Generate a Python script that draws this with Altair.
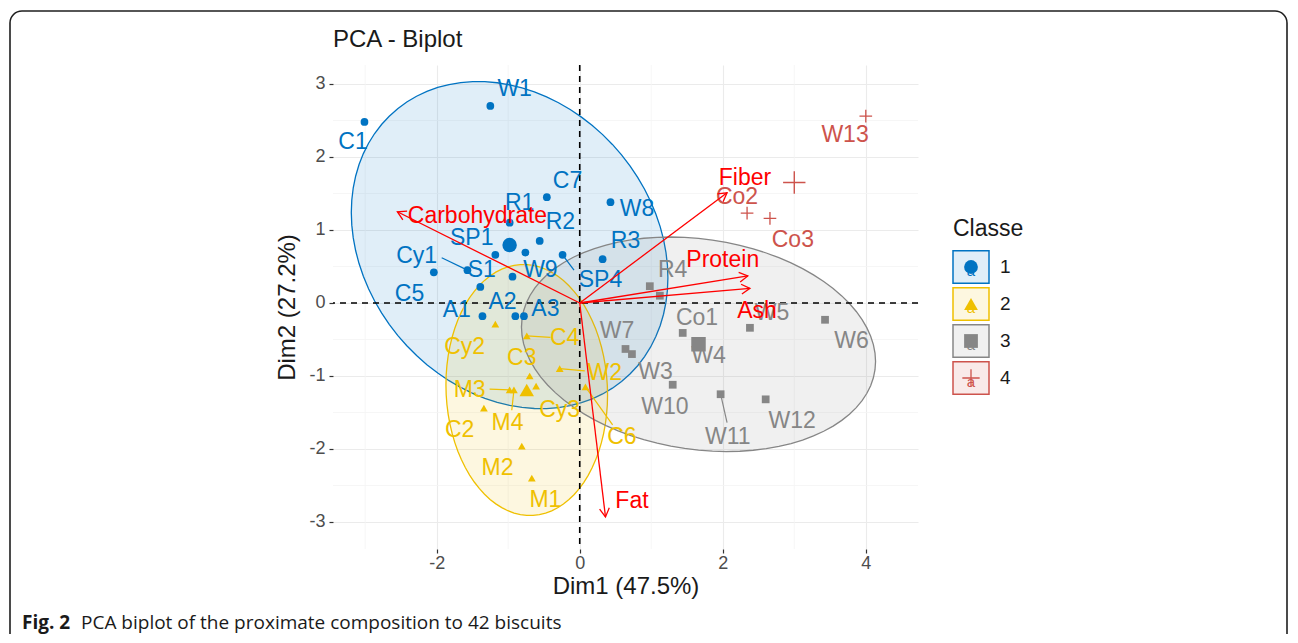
import altair as alt
import numpy as np
import pandas as pd

# ---------------- data ----------------
palette = ["#0073C2", "#EFC000", "#868686", "#CD534C"]
class_ids = [1, 2, 3, 4]

cls1_names = ["C1", "W1", "C7", "W8", "R1", "R2", "SP1", "SP2", "Cy1", "C5", "S1", "W9", "SP4", "R3", "A1", "A2", "A3"]
cls1_x = [-3.01, -1.25, -0.46, 0.43, -0.98, -0.56, -1.18, -0.76, -1.57, -2.04, -1.39, -0.94, -0.24, 0.32, -1.36, -0.90, -0.78]
cls1_y = [2.48, 2.70, 1.45, 1.38, 1.10, 0.85, 0.66, 0.69, 0.45, 0.42, 0.22, 0.36, 0.66, 0.60, -0.18, -0.18, -0.18]
cls1_lx = [-3.17, -0.91, -0.17, 0.80, -0.84, -0.27, -1.51, None, -2.28, -2.38, -1.37, -0.55, 0.29, 0.64, -1.72, -1.08, -0.48]
cls1_ly = [2.21, 2.93, 1.67, 1.29, 1.37, 1.11, 0.89, None, 0.64, 0.12, 0.45, 0.45, 0.32, 0.85, -0.10, 0.01, -0.08]

cls2_names = ["Cy2", "C4", "W2", "C3", "M3", "M4", "Cy3", "C6", "C2", "M2", "M1"]
cls2_x = [-1.18, -0.74, -0.28, -0.70, -0.98, -0.92, -0.61, 0.08, -1.34, -0.81, -0.67]
cls2_y = [-0.29, -0.45, -0.90, -1.00, -1.19, -1.19, -1.14, -1.15, -1.44, -1.96, -2.40]
cls2_lx = [-1.61, -0.21, 0.35, -0.81, -1.54, -1.01, -0.28, 0.59, -1.68, -1.15, -0.48]
cls2_ly = [-0.60, -0.48, -0.96, -0.75, -1.19, -1.64, -1.47, -1.84, -1.74, -2.26, -2.70]

cls3_names = ["R4", "R5", "Co1", "W7", "W3", "W10", "W11", "W12", "W5", "W6", "W4"]
cls3_x = [0.98, 1.12, 1.44, 0.64, 0.73, 1.30, 1.97, 2.60, 2.38, 3.43, 1.68]
cls3_y = [0.23, 0.10, -0.41, -0.63, -0.70, -1.12, -1.25, -1.32, -0.34, -0.23, -0.55]
cls3_lx = [1.30, None, 1.64, 0.52, 1.06, 1.19, 2.07, 2.97, 2.69, 3.80, 1.80]
cls3_ly = [0.45, None, -0.21, -0.38, -0.95, -1.42, -1.84, -1.62, -0.14, -0.52, -0.73]

cls4_names = ["W13", "Co2", "Co3"]
cls4_x = [4.00, 2.34, 2.66]
cls4_y = [2.56, 1.23, 1.16]
cls4_lx = [3.71, 2.20, 2.98]
cls4_ly = [2.30, 1.45, 0.86]

# repel segments: individual -> end near its label
seg_names = ["Cy1", "SP4", "C4", "W2", "M3", "M4", "C6", "W11"]
seg_end_x = [-1.93, -0.08, -0.41, 0.07, -1.26, -0.95, 0.46, 2.06]
seg_end_y = [0.62, 0.45, -0.47, -0.93, -1.18, -1.47, -1.67, -1.64]

# variables
var_names = ["Carbohydrate", "Fiber", "Protein", "Ash", "Fat"]
var_x = [-2.55, 2.06, 2.35, 2.38, 0.36]
var_y = [1.25, 1.51, 0.37, 0.20, -2.93]
var_lx = [-1.43, 2.31, 2.00, 2.48, 0.73]
var_ly = [1.19, 1.71, 0.59, -0.11, -2.71]

x_ticks = [-2, 0, 2, 4]
y_ticks = [-3, -2, -1, 0, 1, 2, 3]
x_minor = [-3, -1, 1, 3]
y_minor = [-2.5, -1.5, -0.5, 0.5, 1.5, 2.5]

# ---------------- tables ----------------
shapes = {1: "circle", 2: "triangle-up", 3: "square", 4: "M-1,0L1,0M0,-1L0,1"}
groups = [
    (1, cls1_names, cls1_x, cls1_y, cls1_lx, cls1_ly),
    (2, cls2_names, cls2_x, cls2_y, cls2_lx, cls2_ly),
    (3, cls3_names, cls3_x, cls3_y, cls3_lx, cls3_ly),
    (4, cls4_names, cls4_x, cls4_y, cls4_lx, cls4_ly),
]
rows = []
for c, nm, xs, ys, lxs, lys in groups:
    for i in range(len(nm)):
        rows.append(dict(name=nm[i], cls=c, x=xs[i], y=ys[i],
                         lx=lxs[i], ly=lys[i], col=palette[c - 1], shape=shapes[c]))
ind = pd.DataFrame(rows)

pos = {r["name"]: (r["x"], r["y"], r["col"]) for r in rows}
seg = pd.DataFrame(dict(x=[pos[n][0] for n in seg_names], y=[pos[n][1] for n in seg_names],
                        x2=seg_end_x, y2=seg_end_y, col=[pos[n][2] for n in seg_names]))

var = pd.DataFrame(dict(name=var_names, vx=var_x, vy=var_y, lx=var_lx, ly=var_ly))


def norm_ellipse(px, py, level=0.95, segments=80):
    pts = np.column_stack([px, py])
    n = len(pts)
    center = pts.mean(axis=0)
    cov = np.cov(pts.T)
    d2 = n - 1
    qf = (d2 / 2.0) * ((1 - level) ** (-2.0 / d2) - 1)   # F(2, d2) quantile
    radius = np.sqrt(2 * qf)
    t = np.linspace(0, 2 * np.pi, segments + 1)
    circle = np.column_stack([np.cos(t), np.sin(t)])
    chol = np.linalg.cholesky(cov).T
    return center + radius * circle @ chol


XS = alt.Scale(domain=[-3.45, 4.73], nice=False, zero=False)
YS = alt.Scale(domain=[-3.37, 3.26], nice=False, zero=False)
LAB = "Liberation Sans"
LABSIZE = 23

base_x = alt.X("x:Q", scale=XS, axis=alt.Axis(values=x_ticks, title="Dim1 (47.5%)", grid=True,
                                                labelExpr="datum.value + ''"))
base_y = alt.Y("y:Q", scale=YS, axis=alt.Axis(values=y_ticks, title="Dim2 (27.2%)", grid=True,
                                                labelExpr="datum.value + ''"))

minor_v = alt.Chart(pd.DataFrame({"x": x_minor})).mark_rule(color="#F4F4F4", strokeWidth=0.8).encode(x=alt.X("x:Q", scale=XS))
minor_h = alt.Chart(pd.DataFrame({"y": y_minor})).mark_rule(color="#F4F4F4", strokeWidth=0.8).encode(y=alt.Y("y:Q", scale=YS))

axes = alt.Chart(ind).mark_point(opacity=0).encode(x=base_x, y=base_y)

ell_layers = []
for c, nm, xs, ys, lxs, lys in groups:
    if len(xs) - 1 < 3:
        continue
    e = norm_ellipse(np.array(xs), np.array(ys))
    edf = pd.DataFrame(dict(x=e[:, 0], y=e[:, 1], i=np.arange(len(e))))
    ell_layers.append(
        alt.Chart(edf).mark_line(fill=palette[c - 1], fillOpacity=0.12, stroke=palette[c - 1],
                                 strokeWidth=1.3)
        .encode(x=alt.X("x:Q", scale=XS), y=alt.Y("y:Q", scale=YS), order="i:Q")
    )

zero_v = alt.Chart(pd.DataFrame({"x": [0]})).mark_rule(color="black", strokeDash=[6, 5], strokeWidth=1.6).encode(x=alt.X("x:Q", scale=XS))
zero_h = alt.Chart(pd.DataFrame({"y": [0]})).mark_rule(color="black", strokeDash=[6, 5], strokeWidth=1.6).encode(y=alt.Y("y:Q", scale=YS))

pts_filled = alt.Chart(ind).transform_filter("datum.cls < 4").mark_point(filled=True, opacity=1, size=60).encode(
    x=alt.X("x:Q", scale=XS), y=alt.Y("y:Q", scale=YS),
    fill=alt.Fill("col:N", scale=None), shape=alt.Shape("shape:N", scale=None))
pts_cross = alt.Chart(ind).transform_filter("datum.cls == 4").mark_point(filled=False, opacity=1, size=160,
                                                                         strokeWidth=1.3).encode(
    x=alt.X("x:Q", scale=XS), y=alt.Y("y:Q", scale=YS),
    stroke=alt.Stroke("col:N", scale=None), shape=alt.Shape("shape:N", scale=None))

cent = alt.Chart(ind).transform_aggregate(x="mean(x)", y="mean(y)", groupby=["cls", "col", "shape"])
cent_filled = cent.transform_filter("datum.cls < 4").mark_point(filled=True, opacity=1, size=210).encode(
    x=alt.X("x:Q", scale=XS), y=alt.Y("y:Q", scale=YS),
    fill=alt.Fill("col:N", scale=None), shape=alt.Shape("shape:N", scale=None))
cent_cross = cent.transform_filter("datum.cls == 4").mark_point(filled=False, opacity=1, size=500,
                                                                strokeWidth=1.4).encode(
    x=alt.X("x:Q", scale=XS), y=alt.Y("y:Q", scale=YS),
    stroke=alt.Stroke("col:N", scale=None), shape=alt.Shape("shape:N", scale=None))

segs = alt.Chart(seg).mark_rule(strokeWidth=1.2).encode(
    x=alt.X("x:Q", scale=XS), y=alt.Y("y:Q", scale=YS), x2="x2:Q", y2="y2:Q",
    color=alt.Color("col:N", scale=None))

labels = alt.Chart(ind).transform_filter("isValid(datum.lx)").mark_text(font=LAB, fontSize=LABSIZE).encode(
    x=alt.X("lx:Q", scale=XS), y=alt.Y("ly:Q", scale=YS), text="name:N",
    color=alt.Color("col:N", scale=None))

arrows = alt.Chart(var).mark_rule(color="red", strokeWidth=1.3).encode(
    x=alt.X("vx:Q", scale=XS), y=alt.Y("vy:Q", scale=YS), x2=alt.datum(0), y2=alt.datum(0))
heads = alt.Chart(var).transform_calculate(ang="(atan2(datum.vx, datum.vy) * 180 / PI + 360) % 360").mark_point(
    shape="M-0.5,0.87L0,0L0.5,0.87", filled=False, size=380, color="red", strokeWidth=1.3, opacity=1).encode(
    x=alt.X("vx:Q", scale=XS), y=alt.Y("vy:Q", scale=YS), angle=alt.Angle("ang:Q", scale=None))
var_labels = alt.Chart(var).mark_text(font=LAB, fontSize=LABSIZE, color="red").encode(
    x=alt.X("lx:Q", scale=XS), y=alt.Y("ly:Q", scale=YS), text="name:N")

main = alt.layer(minor_v, minor_h, axes, *ell_layers, zero_v, zero_h, pts_filled, pts_cross,
                 segs, cent_filled, cent_cross, labels, arrows, heads, var_labels)

# ---------------- legend, title, frame and caption ----------------
leg = pd.DataFrame(dict(cls=class_ids, col=palette, lab=[str(c) for c in class_ids],
                        shape=[shapes[c] for c in class_ids]))
LY = alt.Y("cls:Q", scale=alt.Scale(domain=[1, 4], range=[202, 313]), axis=None)
LX = alt.value(638)
leg_box = alt.Chart(leg).mark_point(shape="M-1,-0.9L1,-0.9L1,0.9L-1,0.9Z", size=1296, filled=True,
                                    fillOpacity=0.12, strokeWidth=1.5, opacity=1).encode(
    x=LX, y=LY, fill=alt.Fill("col:N", scale=None), stroke=alt.Stroke("col:N", scale=None))
leg_a = alt.Chart(leg).mark_text(font=LAB, fontSize=15, dy=4).encode(
    x=LX, y=LY, text=alt.value("a"), color=alt.Color("col:N", scale=None))
leg_sym = alt.Chart(leg).transform_filter("datum.cls < 4").mark_point(filled=True, size=190, opacity=1).encode(
    x=LX, y=LY, fill=alt.Fill("col:N", scale=None), shape=alt.Shape("shape:N", scale=None))
leg_cross = alt.Chart(leg).transform_filter("datum.cls == 4").mark_point(filled=False, size=300, opacity=1,
                                                                         strokeWidth=1.3).encode(
    x=LX, y=LY, stroke=alt.Stroke("col:N", scale=None), shape=alt.Shape("shape:N", scale=None))
leg_lab = alt.Chart(leg).mark_text(font=LAB, fontSize=19, align="left", color="#1a1a1a").encode(
    x=alt.value(667), y=LY, text="lab:N")

one = pd.DataFrame({"k": [0]})
leg_title = alt.Chart(one).mark_text(font=LAB, fontSize=23, align="left", color="#1a1a1a").encode(
    x=alt.value(620), y=alt.value(164), text=alt.value("Classe"))
plot_title = alt.Chart(one).mark_text(font=LAB, fontSize=24, align="left", color="#1a1a1a").encode(
    x=alt.value(0), y=alt.value(-25), text=alt.value("PCA - Biplot"))
frame = alt.Chart(one).mark_rect(fill="transparent", stroke="#1f1f1f", strokeWidth=1.6, cornerRadius=12).encode(
    x=alt.value(-323), x2=alt.value(954), y=alt.value(-54), y2=alt.value(640))
cap_bold = alt.Chart(one).mark_text(font="Open Sans", fontSize=19, fontWeight="bold", align="left",
                                    color="#1a1a1a").encode(
    x=alt.value(-311), y=alt.value(558), text=alt.value("Fig. 2"))
cap_rest = alt.Chart(one).mark_text(font="Open Sans", fontSize=19, align="left", color="#1a1a1a").encode(
    x=alt.value(-252), y=alt.value(558),
    text=alt.value("PCA biplot of the proximate composition to 42 biscuits"))

legend = alt.layer(leg_box, leg_a, leg_sym, leg_cross, leg_lab, leg_title, plot_title, frame, cap_bold, cap_rest)

chart = alt.layer(main, legend).resolve_scale(y="independent", x="independent").properties(
    width=585, height=484,
    autosize=alt.AutoSizeParams(type="none"),
    padding={"left": 325, "top": 57, "right": 370, "bottom": 85},
).configure_view(stroke=None).configure_axis(
    labelFont=LAB, labelFontSize=18, labelColor="#4D4D4D",
    tickColor="#333333", tickSize=4, tickWidth=1.2, domain=False,
    titleFont=LAB, titleFontSize=24, titleFontWeight="normal", titleColor="#1a1a1a",
    gridColor="#EBEBEB", gridWidth=1.1,
).configure_axisX(titlePadding=2, labelPadding=1).configure_axisY(titlePadding=9, labelPadding=4)

chart.save("out.html", embed_options={"renderer": "svg", "actions": False})
